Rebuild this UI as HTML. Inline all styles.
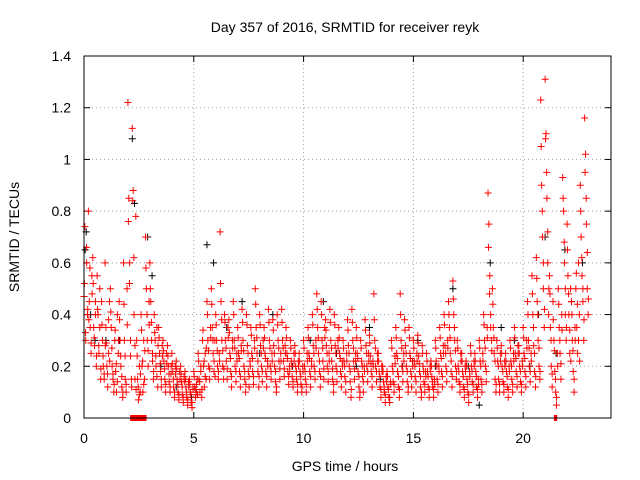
<!DOCTYPE html>
<html><head><meta charset="utf-8"><style>
body{margin:0;background:#fff}
svg{display:block;font-family:"Liberation Sans",sans-serif}
</style></head><body>
<svg id="chart" width="640" height="480" viewBox="0 0 640 480" xmlns="http://www.w3.org/2000/svg">
<rect width="640" height="480" fill="#fff"/>
<text x="345" y="32" font-size="14" text-anchor="middle">Day 357 of 2016, SRMTID for receiver reyk</text>
<text x="345" y="471" font-size="14" text-anchor="middle">GPS time / hours</text>
<text x="0" y="0" font-size="14" text-anchor="middle" transform="translate(19,237) rotate(-90)">SRMTID / TECUs</text>
<g id="grid"></g><g id="ticks"></g><g id="marks"></g>
<rect x="84" y="56" width="527" height="362" fill="none" stroke="#000" stroke-width="1"/>
</svg>
<script>
const xTicks=[0,5,10,15,20];
const yTicks=[0,0.2,0.4,0.6,0.8,1,1.2,1.4];
const yTickLabels=["0","0.2","0.4","0.6","0.8","1","1.2","1.4"];
const redHours=[0,0.2,0.4,0.6,0.8,1,1.2,1.4,1.6,1.8,2,2.2,2.4,2.6,2.8,3,3.2,3.4,3.6,3.8,4,4.2,4.4,4.6,4.8,5,5.2,5.4,5.6,5.8,6,6.2,6.4,6.6,6.8,7,7.2,7.4,7.6,7.8,8,8.2,8.4,8.6,8.8,9,9.2,9.4,9.6,9.8,10,10.2,10.4,10.6,10.8,11,11.2,11.4,11.6,11.8,12,12.2,12.4,12.6,12.8,13,13.2,13.4,13.6,13.8,14,14.2,14.4,14.6,14.8,15,15.2,15.4,15.6,15.8,16,16.2,16.4,16.6,16.8,17,17.2,17.4,17.6,17.8,18,18.2,18.4,18.6,18.8,19,19.2,19.4,19.6,19.8,20,20.2,20.4,20.6,20.8,21,21.2,21.4,21.6,21.8,22,22.2,22.4,22.6,22.8];
const redValues=[
[.47,.74,.30,.60,.40],[.80,.45,.35,.25,.55],[.62,.35,.28,.45,.20],[.55,.40,.25,.35,.15],[.45,.30,.20,.15,.60],
[.35,.20,.12,.25,.45],[.50,.35,.20,.15,.10],[.30,.18,.10,.40,.25],[.45,.30,.20,.12,.08],[.60,.30,.15,.10,.50],
[1.22,.85,.60,.30,.15],[1.12,.88,.40,.15,.78],[.30,.15,.07,.20,.10],[.40,.20,.10,.30,.15],[.70,.50,.30,.20,.45],
[.60,.45,.30,.25,.15],[.40,.30,.20,.35,.12],[.35,.25,.18,.12,.28],[.30,.22,.15,.10,.25],[.28,.20,.14,.10,.17],
[.25,.18,.12,.08,.20],[.22,.15,.10,.07,.18],[.20,.14,.09,.06,.16],[.18,.12,.08,.05,.14],[.15,.10,.06,.04,.12],
[.18,.12,.08,.10,.15],[.25,.15,.10,.20,.08],[.30,.20,.12,.25,.15],[.45,.30,.20,.15,.35],[.50,.35,.25,.18,.30],
[.40,.30,.20,.15,.25],[.72,.45,.30,.20,.15],[.40,.30,.22,.15,.35],[.38,.25,.18,.12,.30],[.45,.30,.20,.14,.25],
[.35,.25,.18,.12,.28],[.42,.30,.20,.15,.10],[.40,.28,.18,.12,.22],[.35,.25,.18,.13,.30],[.50,.35,.25,.18,.12],
[.40,.28,.20,.14,.30],[.35,.25,.18,.12,.22],[.42,.30,.20,.15,.25],[.38,.28,.20,.14,.10],[.40,.30,.22,.15,.25],
[.42,.30,.22,.16,.28],[.35,.25,.18,.13,.20],[.30,.22,.16,.12,.25],[.28,.20,.15,.10,.22],[.25,.18,.13,.10,.20],
[.30,.20,.15,.10,.25],[.35,.25,.18,.12,.22],[.40,.28,.20,.15,.30],[.48,.35,.25,.18,.12],[.45,.30,.22,.15,.35],
[.38,.28,.20,.14,.25],[.42,.30,.22,.15,.10],[.40,.28,.20,.14,.30],[.35,.25,.18,.12,.22],[.30,.22,.16,.10,.25],
[.38,.28,.20,.14,.08],[.42,.30,.22,.15,.25],[.35,.25,.18,.12,.08],[.30,.22,.16,.10,.20],[.38,.28,.20,.14,.25],
[.32,.24,.18,.12,.22],[.48,.30,.20,.14,.25],[.25,.18,.12,.08,.20],[.20,.14,.10,.06,.16],[.18,.12,.08,.06,.14],
[.30,.20,.14,.10,.24],[.35,.25,.18,.12,.08],[.48,.30,.20,.14,.25],[.38,.28,.20,.14,.10],[.35,.25,.18,.12,.22],
[.30,.22,.16,.10,.25],[.32,.24,.18,.12,.08],[.28,.20,.14,.10,.18],[.25,.18,.12,.08,.20],[.22,.16,.12,.08,.15],
[.30,.22,.15,.10,.20],[.35,.25,.18,.12,.28],[.40,.28,.20,.14,.30],[.45,.35,.25,.18,.12],[.53,.40,.30,.20,.15],
[.30,.20,.14,.10,.25],[.25,.18,.12,.08,.20],[.22,.15,.10,.06,.18],[.28,.20,.14,.10,.22],[.25,.18,.12,.08,.15],
[.30,.22,.15,.10,.25],[.40,.30,.20,.14,.35],[.87,.75,.55,.40,.30],[.50,.35,.25,.15,.10],[.30,.22,.15,.10,.25],
[.28,.20,.14,.10,.22],[.25,.18,.12,.08,.20],[.30,.22,.15,.10,.25],[.35,.25,.18,.12,.28],[.28,.20,.14,.10,.22],
[.35,.25,.18,.12,.30],[.45,.30,.20,.14,.25],[.55,.40,.28,.18,.12],[.62,.45,.30,.20,.15],[1.23,.90,.70,.50,.35],
[1.31,1.10,.85,.60,.40],[.55,.35,.20,.12,.45],[.30,.18,.10,.05,.25],[.50,.35,.25,.15,.40],[.93,.80,.60,.40,.30],
[.75,.55,.40,.25,.50],[.45,.30,.18,.10,.35],[.50,.35,.25,.60,.40],[.90,.70,.55,.45,.30],[1.16,1.02,.75,.50,.40]];
const redValues2=[
[.52,.33,.66,.42],[.38,.58,.29,.48],[.52,.31,.40,.24],[.42,.28,.50,.19],[.36,.24,.17,.28],
[.29,.17,.38,.22],[.41,.27,.17,.13],[.34,.21,.14,.30],[.38,.24,.16,.10],[.44,.24,.13,.36],
[.76,.52,.24,.12],[.84,.62,.28,.11],[.24,.12,.09,.17],[.34,.22,.13,.26],[.58,.40,.26,.36],
[.50,.37,.22,.18],[.33,.24,.16,.28],[.31,.21,.15,.24],[.26,.19,.13,.21],[.24,.17,.12,.20],
[.21,.15,.10,.17],[.19,.13,.09,.15],[.17,.12,.08,.14],[.15,.10,.07,.12],[.13,.09,.06,.11],
[.16,.11,.13,.09],[.22,.14,.18,.11],[.34,.22,.16,.27],[.40,.26,.19,.31],[.44,.30,.22,.16],
[.36,.26,.18,.22],[.52,.38,.26,.19],[.37,.27,.19,.31],[.33,.23,.16,.27],[.40,.27,.18,.22],
[.31,.23,.16,.26],[.37,.26,.18,.13],[.36,.25,.16,.20],[.32,.23,.16,.27],[.44,.31,.22,.16],
[.36,.25,.18,.27],[.31,.23,.16,.20],[.37,.27,.18,.22],[.34,.25,.18,.12],[.36,.27,.19,.22],
[.37,.27,.19,.25],[.31,.23,.16,.18],[.27,.20,.14,.22],[.25,.18,.13,.20],[.22,.16,.12,.18],
[.27,.18,.13,.22],[.31,.23,.16,.20],[.36,.25,.18,.27],[.42,.31,.22,.16],[.40,.27,.19,.31],
[.34,.25,.18,.22],[.37,.27,.19,.13],[.36,.25,.18,.27],[.31,.23,.16,.20],[.27,.20,.14,.22],
[.34,.25,.18,.11],[.37,.27,.19,.22],[.31,.23,.16,.10],[.27,.20,.14,.18],[.34,.25,.18,.22],
[.29,.21,.16,.20],[.38,.27,.18,.22],[.22,.16,.11,.18],[.18,.12,.09,.14],[.16,.11,.08,.13],
[.27,.18,.13,.21],[.31,.23,.16,.11],[.40,.27,.18,.22],[.34,.25,.18,.12],[.31,.23,.16,.20],
[.27,.20,.14,.22],[.29,.21,.16,.10],[.25,.18,.13,.16],[.22,.16,.11,.18],[.20,.14,.11,.13],
[.27,.20,.13,.18],[.31,.23,.16,.25],[.36,.25,.18,.27],[.40,.31,.22,.16],[.46,.35,.26,.18],
[.27,.18,.13,.22],[.22,.16,.11,.18],[.20,.13,.09,.16],[.25,.18,.13,.20],[.22,.16,.11,.13],
[.27,.20,.13,.22],[.36,.27,.18,.31],[.66,.48,.35,.26],[.44,.31,.22,.13],[.27,.20,.13,.22],
[.25,.18,.13,.20],[.22,.16,.11,.18],[.27,.20,.13,.22],[.31,.23,.16,.25],[.25,.18,.13,.20],
[.31,.23,.16,.27],[.40,.27,.18,.22],[.48,.35,.25,.16],[.54,.40,.27,.18],[1.05,.80,.60,.42],
[1.08,.95,.72,.50],[.48,.30,.17,.38],[.26,.15,.08,.20],[.44,.30,.21,.34],[.85,.68,.50,.35],
[.65,.48,.34,.22],[.40,.26,.15,.30],[.56,.44,.30,.22],[.80,.62,.50,.38],[.95,.85,.64,.46]];
const blackHours=[0.05,0.1,0.3,0.5,1.0,1.6,2.2,2.3,2.9,3.1,3.5,4.2,4.9,5.6,5.9,6.5,7.2,8.0,8.6,9.5,10.3,10.9,11.5,12.4,13.0,13.5,14.5,15.2,16.0,16.8,17.5,18.0,18.5,19.0,19.6,20.3,20.7,21.0,21.5,21.9,22.2,22.7];
const blackValues=[.65,.72,.4,.3,.3,.3,1.08,.83,.7,.55,.2,.12,.08,.67,.6,.35,.45,.25,.4,.2,.3,.45,.25,.2,.35,.15,.2,.3,.2,.5,.2,.05,.6,.35,.3,.2,.4,.7,.25,.65,.45,.6];
const gapStart=[2.1,21.4];
const gapEnd=[2.85,21.55];

const NS="http://www.w3.org/2000/svg";
const X0=84,X1=611,Y0=418,Y1=56,XMAX=24,YMAX=1.4;
const xs=h=>X0+h/XMAX*(X1-X0);
const ys=v=>Y0-v/YMAX*(Y0-Y1);
function mk(tag,attrs,parent){const e=document.createElementNS(NS,tag);for(const k in attrs)e.setAttribute(k,attrs[k]);parent.appendChild(e);return e;}
const grid=document.getElementById('grid'),ticks=document.getElementById('ticks'),marks=document.getElementById('marks');
xTicks.forEach(t=>{
  const x=xs(t);
  if(t>0){const g=mk('line',{x1:x,x2:x,y1:Y1,y2:Y0,stroke:'#a0a0a0','stroke-dasharray':'1,3'},grid);
  
  }
  mk('line',{x1:x,x2:x,y1:Y0,y2:Y0-6,stroke:'#000'},ticks);
  mk('line',{x1:x,x2:x,y1:Y1,y2:Y1+6,stroke:'#000'},ticks);
  const l=mk('text',{x:x,y:443,'font-size':14,'text-anchor':'middle'},ticks);
  l.textContent=String(t);
  
  
});
yTicks.forEach((t,i)=>{
  const y=ys(t);
  if(t>0){const g=mk('line',{x1:X0,x2:X1,y1:y,y2:y,stroke:'#a0a0a0','stroke-dasharray':'1,3'},grid);
  
  }
  mk('line',{x1:X0,x2:X0+6,y1:y,y2:y,stroke:'#000'},ticks);
  mk('line',{x1:X1,x2:X1-6,y1:y,y2:y,stroke:'#000'},ticks);
  const l=mk('text',{x:71,y:y+5,'font-size':14,'text-anchor':'end'},ticks);
  l.textContent=yTickLabels[i];
  
  
});
function plus(x,y,c,name){
  const p=mk('path',{d:`M${x-3.5},${y}h7M${x},${y-3.5}v7`,stroke:c,'stroke-width':1,fill:'none'},marks);
  
  
}
blackHours.forEach((h,i)=>plus(xs(h),ys(blackValues[i]),'#000','black-point'));
redHours.forEach((h,i)=>{
  redValues[i].forEach((v,k)=>plus(xs(h+k*0.04),ys(v),'#ff0000','red-point'));
  redValues2[i].forEach((v,k)=>plus(xs(h+0.02+k*0.05),ys(v),'#ff0000','red-point'));
});
gapStart.forEach((s,i)=>{
  const r=mk('rect',{x:xs(s),y:415,width:xs(gapEnd[i])-xs(s),height:6,fill:'#ff0000'},marks);
  
  
});
</script>
</body></html>
